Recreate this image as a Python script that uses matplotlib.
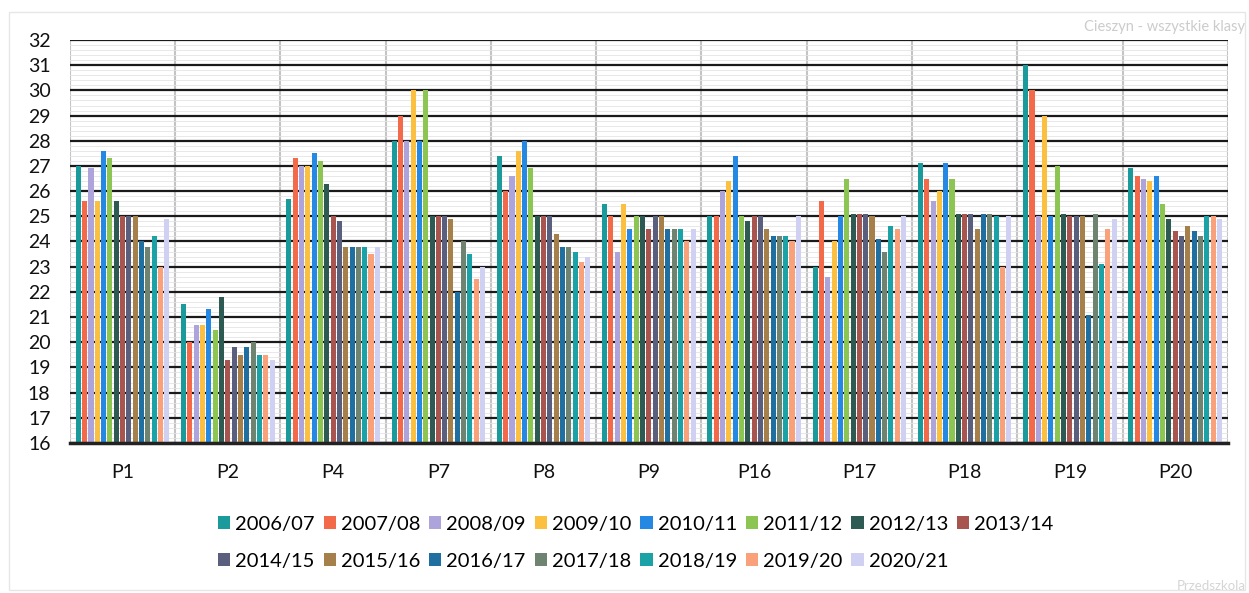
import numpy as np
import matplotlib.pyplot as plt
from matplotlib.patches import Rectangle

# categories and school years
groups = ['P1', 'P2', 'P4', 'P7', 'P8', 'P9', 'P16', 'P17', 'P18', 'P19', 'P20']
years = ['2006/07', '2007/08', '2008/09', '2009/10', '2010/11', '2011/12', '2012/13', '2013/14',
         '2014/15', '2015/16', '2016/17', '2017/18', '2018/19', '2019/20', '2020/21']

colors = ['#1b9a9c', '#f36a4b', '#aca4da', '#fbc03f', '#2589e4', '#8dc552', '#2d5a52', '#a9554f',
          '#5b5f7e', '#a6804b', '#1f6fa0', '#6e8370', '#1ba2a6', '#f9a17b', '#d0d0f2']

# values per group, one per school year
p1 = [27.0, 25.6, 26.9, 25.6, 27.6, 27.3, 25.6, 25.0, 25.0, 25.0, 24.0, 23.8, 24.2, 23.0, 24.9]
p2 = [21.5, 20.0, 20.7, 20.7, 21.3, 20.5, 21.8, 19.3, 19.8, 19.5, 19.8, 20.0, 19.5, 19.5, 19.3]
p4 = [25.7, 27.3, 27.0, 27.0, 27.5, 27.2, 26.3, 25.0, 24.8, 23.8, 23.8, 23.8, 23.8, 23.5, 23.8]
p7 = [28.0, 29.0, 28.0, 30.0, 28.0, 30.0, 25.0, 25.0, 25.0, 24.9, 22.0, 24.0, 23.5, 22.5, 23.0]
p8 = [27.4, 26.0, 26.6, 27.6, 28.0, 26.9, 25.0, 25.0, 25.0, 24.3, 23.8, 23.8, 23.6, 23.2, 23.4]
p9 = [25.5, 25.0, 23.6, 25.5, 24.5, 25.0, 25.0, 24.5, 25.0, 25.0, 24.5, 24.5, 24.5, 24.0, 24.5]
p16 = [25.0, 25.0, 26.0, 26.4, 27.4, 25.0, 24.8, 25.0, 25.0, 24.5, 24.2, 24.2, 24.2, 24.0, 25.0]
p17 = [23.0, 25.6, 22.6, 24.0, 25.0, 26.5, 25.1, 25.1, 25.1, 25.0, 24.1, 23.6, 24.6, 24.5, 25.0]
p18 = [27.1, 26.5, 25.6, 26.0, 27.1, 26.5, 25.1, 25.1, 25.1, 24.5, 25.1, 25.1, 25.0, 23.0, 25.0]
p19 = [31.0, 30.0, 25.0, 29.0, 25.0, 27.0, 25.1, 25.0, 25.0, 25.0, 21.1, 25.1, 23.1, 24.5, 24.9]
p20 = [26.9, 26.6, 26.5, 26.4, 26.6, 25.5, 24.9, 24.4, 24.2, 24.6, 24.4, 24.2, 25.0, 25.0, 24.9]

values = np.array([p1, p2, p4, p7, p8, p9, p16, p17, p18, p19, p20])

plt.rcParams['font.family'] = ['Lato', 'DejaVu Sans']

fig = plt.figure(figsize=(12.49, 5.93), dpi=100)
ax = fig.add_axes([0.056, 0.253, 0.927, 0.6795])

x = np.arange(len(groups))
step = 0.06
width = 0.048
for i, year in enumerate(years):
    ax.bar(x + (i - 7) * step, values[:, i] - 16, width=width, bottom=16,
           color=colors[i], label=year, zorder=3)

ax.set_ylim(16, 32)
ax.set_xlim(-0.5, len(groups) - 0.5)
ax.set_yticks(range(16, 33))
ax.set_xticks(x)
ax.set_xticklabels(groups)
ax.tick_params(axis='both', length=0, labelsize=14, colors='#111111')
ax.tick_params(axis='y', pad=14)
ax.tick_params(axis='x', pad=15)

# faint minor lines, dark major lines
ax.set_yticks(np.arange(16, 32, 0.2), minor=True)
ax.tick_params(axis='y', which='minor', length=0)
ax.grid(axis='y', which='minor', color='#e4e4e4', lw=0.6, zorder=0)
ax.grid(axis='y', which='major', color='#1a1a1a', lw=1.6, zorder=1)
for b in np.arange(-0.5, len(groups), 1.0):
    ax.axvline(b, color='#c4c4c4', lw=1.5, zorder=0.5)

for s in ['top', 'right', 'left']:
    ax.spines[s].set_visible(False)
ax.spines['bottom'].set_color('#222222')
ax.spines['bottom'].set_linewidth(2.5)
ax.spines['bottom'].set_zorder(4)

# legend: 8 in first row, 7 in second
h, l = ax.get_legend_handles_labels()
order = []
for c in range(7):
    order += [c, c + 8]
order.append(7)
fig.legend([h[k] for k in order], [l[k] for k in order], ncol=8, loc='center',
           bbox_to_anchor=(0.509, 0.085), frameon=False, fontsize=14.5,
           handlelength=0.6, handleheight=0.6, handletextpad=0.25,
           columnspacing=0.45, labelspacing=1.0)

fig.text(0.997, 0.955, 'Cieszyn - wszystkie klasy', ha='right', va='center',
         fontsize=10.5, color='#cccccc')
fig.text(0.997, 0.012, 'Przedszkola', ha='right', va='center', fontsize=9.5, color='#d5d5d5')
fig.patches.append(Rectangle((0.007, 0.005), 0.99, 0.975, transform=fig.transFigure,
                             fill=False, ec='#e6e6e6', lw=1))

fig.savefig('out.png', dpi=100)
